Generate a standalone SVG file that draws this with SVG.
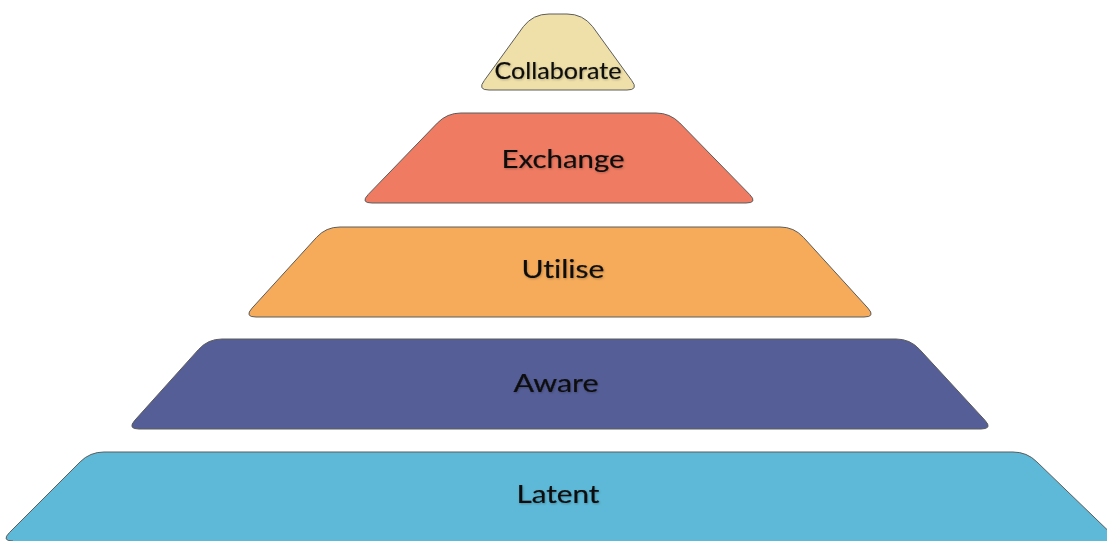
<svg xmlns="http://www.w3.org/2000/svg" width="1107" height="541" viewBox="0 0 1107 541">
  <defs>
    <filter id="soft-shadow" x="-10%" y="-30%" width="120%" height="160%">
      <feDropShadow dx="0.8" dy="1" stdDeviation="0.9" flood-color="#000000" flood-opacity="0.25"/>
    </filter>
  </defs>
  <style>
    .tier { stroke: #5c5c5c; stroke-width: 1; stroke-linejoin: round; }
    .label { font-family: Lato, "Open Sans", "Liberation Sans", sans-serif; font-size: 25px; fill: #0d0d0d; stroke: #0d0d0d; stroke-width: 0.15; text-anchor: middle; font-variant-ligatures: none; filter: url(#soft-shadow); }
    .small { font-size: 23px; }
  </style>
  <rect width="1107" height="541" fill="#ffffff"/>

  <g id="tier-latent">
    <path class="tier" fill="#5db9d7" d="M104,452 L1013,452 Q1027,452 1036.9,461.9 L1123,545 L1123,560 L13,560 L13,541 Q1,541 9.5,532.5 L80.1,461.9 Q90,452 104,452 Z"/>
    <text class="label" x="558" y="503" textLength="83" lengthAdjust="spacingAndGlyphs">Latent</text>
  </g>

  <g id="tier-aware">
    <path class="tier" fill="#555e97" d="M222,339 L896,339 Q910,339 919.5,349.3 L984.9,420.2 Q993,429 981,429 L139,429 Q127,429 135,420.1 L198.6,349.4 Q208,339 222,339 Z"/>
    <text class="label" x="556" y="392" textLength="85" lengthAdjust="spacingAndGlyphs">Aware</text>
  </g>

  <g id="tier-utilise">
    <path class="tier" fill="#f5ab5a" d="M340,227 L780,227 Q794,227 803.4,237.3 L867.9,308.1 Q876,317 864,317 L256,317 Q244,317 252.1,308.1 L316.6,237.3 Q326,227 340,227 Z"/>
    <text class="label" x="563" y="278" textLength="83" lengthAdjust="spacingAndGlyphs">Utilise</text>
  </g>

  <g id="tier-exchange">
    <path class="tier" fill="#ee7b62" d="M461,113 L656,113 Q670,113 679.8,123 L749.6,194.4 Q758,203 746,203 L372,203 Q360,203 368.3,194.4 L437.3,123.1 Q447,113 461,113 Z"/>
    <text class="label" x="563" y="168" textLength="123" lengthAdjust="spacingAndGlyphs">Exchange</text>
  </g>

  <g id="tier-collaborate">
    <path class="tier" fill="#efe0a9" d="M549,14 L567,14 Q583,14 592.7,26.7 L631.7,80.5 Q639,90 627,90 L489,90 Q477,90 484.3,80.5 L523.3,26.7 Q533,14 549,14 Z"/>
    <text class="label small" x="558" y="79" textLength="127" lengthAdjust="spacingAndGlyphs">Collaborate</text>
  </g>
</svg>
